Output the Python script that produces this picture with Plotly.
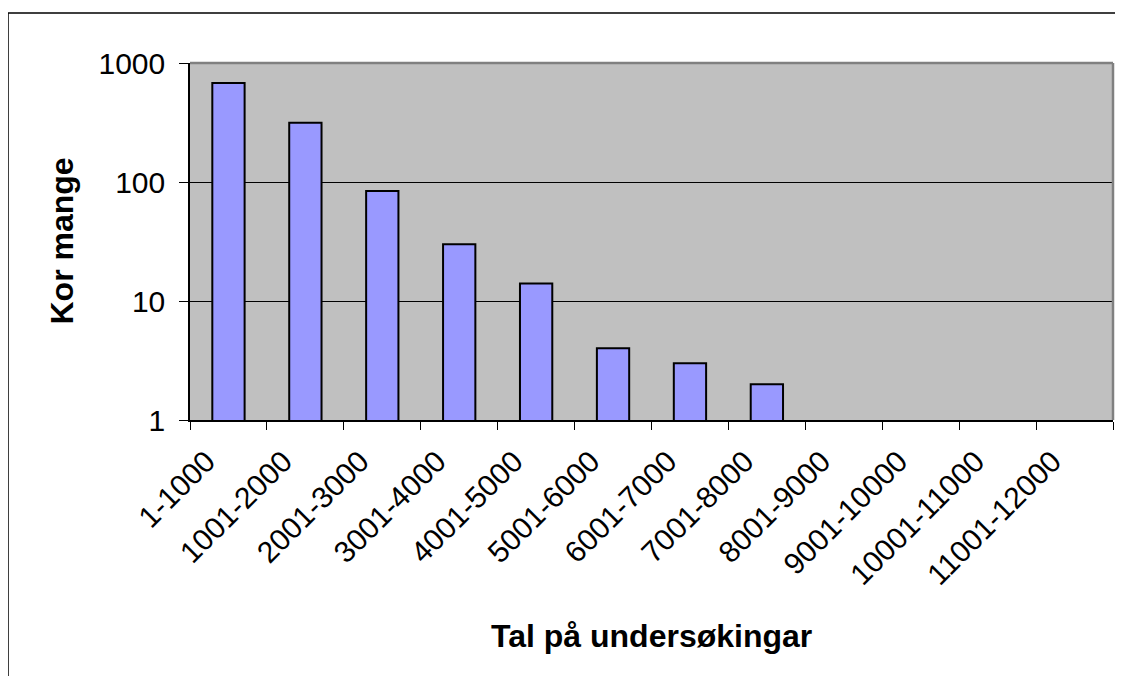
import plotly.graph_objects as go

# Data
categories = ["1-1000", "1001-2000", "2001-3000", "3001-4000", "4001-5000",
              "5001-6000", "6001-7000", "7001-8000", "8001-9000",
              "9001-10000", "10001-11000", "11001-12000"]
counts = [680, 315, 84, 30, 14, 4, 3, 2, None, None, None, None]

FONT = "Liberation Sans, Arial, sans-serif"

# page body has an 8px margin, so the figure is sized/offset to compensate
W, H = 1115, 668
ML, MT, MR, MB = 182, 55, 10, 256
PW, PH = W - ML - MR, H - MT - MB

fig = go.Figure()
fig.add_trace(go.Bar(
    x=categories,
    y=counts,
    marker=dict(color="#9999FF", line=dict(color="#000000", width=2)),
    showlegend=False,
))

fig.update_layout(
    width=W,
    height=H,
    margin=dict(l=ML, r=MR, t=MT, b=MB, autoexpand=False),
    paper_bgcolor="white",
    plot_bgcolor="#C0C0C0",
    bargap=0.58,
    font=dict(family=FONT, color="black", size=30),
    xaxis=dict(
        type="category",
        tickangle=-45,
        tickson="boundaries",
        ticks="outside",
        ticklen=8,
        tickcolor="black",
        showline=True,
        linecolor="black",
        linewidth=1.5,
        showgrid=False,
        tickfont=dict(size=30),
        ticklabelshift=-22,
        ticklabelstandoff=10,
    ),
    yaxis=dict(
        type="log",
        range=[0, 3],
        tickvals=[1, 10, 100, 1000],
        ticktext=["1", "10", "100", "1000"],
        ticks="outside",
        ticklen=9,
        tickcolor="black",
        showline=True,
        linecolor="black",
        linewidth=1.5,
        showgrid=True,
        gridcolor="black",
        gridwidth=1,
        zeroline=False,
        tickfont=dict(size=30),
        ticklabelstandoff=8,
    ),
    annotations=[
        dict(text="<b>Kor mange</b>", xref="paper", yref="paper",
             x=(53 - ML) / PW, y=0.5, xanchor="center", yanchor="middle",
             textangle=-90, showarrow=False, font=dict(size=32)),
        dict(text="<b>Tal på undersøkingar</b>", xref="paper", yref="paper",
             x=0.5, y=-(628 - (MT + PH)) / PH, xanchor="center", yanchor="middle",
             showarrow=False, font=dict(size=32)),
    ],
    shapes=[
        # plot area border, gray on top and right like the original
        dict(type="line", xref="paper", yref="paper", x0=0, y0=1, x1=1, y1=1,
             line=dict(color="#808080", width=2.5), layer="above"),
        dict(type="line", xref="paper", yref="paper", x0=1, y0=0, x1=1, y1=1,
             line=dict(color="#808080", width=2.5), layer="above"),
        # outer chart frame
        dict(type="rect", xref="paper", yref="paper",
             x0=(0 - ML) / PW, y0=-(MB + 40) / PH,
             x1=(W + 40 - ML) / PW, y1=1 + (MT - 5) / PH,
             line=dict(color="black", width=1.5)),
    ],
)

fig.write_html("out.html")
